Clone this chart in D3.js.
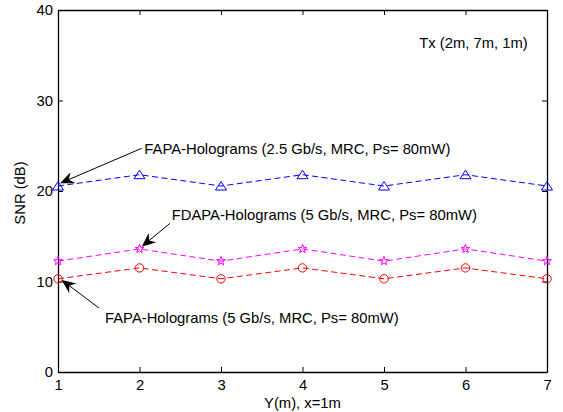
<!DOCTYPE html>
<html>
<head>
<meta charset="utf-8">
<script src="https://cdn.jsdelivr.net/npm/d3@7"></script>
<style>
  html, body { margin: 0; padding: 0; background: #fff; }
  svg { display: block; font-family: "Liberation Sans", Arial, sans-serif; }
</style>
</head>
<body>
<div id="chart"></div>
<script>
// ---- data ----
const positions = [1, 2, 3, 4, 5, 6, 7];
const fapa25 = [20.55, 21.8, 20.55, 21.8, 20.55, 21.8, 20.55];
const fdapa5 = [12.25, 13.6, 12.25, 13.6, 12.25, 13.6, 12.25];
const fapa5 = [10.3, 11.5, 10.3, 11.5, 10.3, 11.5, 10.3];
const xTicks = [1, 2, 3, 4, 5, 6, 7];
const yTicks = [0, 10, 20, 30, 40];
const seriesNames = [
  "FAPA-Holograms (2.5 Gb/s, MRC, Ps= 80mW)",
  "FDAPA-Holograms (5 Gb/s, MRC, Ps= 80mW)",
  "FAPA-Holograms (5 Gb/s, MRC, Ps= 80mW)"
];
const txLabel = "Tx (2m, 7m, 1m)";
const xLabel = "Y(m), x=1m";
const yLabel = "SNR (dB)";

// ---- layout ----
const W = 563, H = 412;
const margin = { left: 58, top: 10, right: 16, bottom: 40 };
const iw = W - margin.left - margin.right;
const ih = H - margin.top - margin.bottom;
const FONT = 14.8;

const svg = d3.select("#chart").append("svg").attr("width", W).attr("height", H);
const g = svg.append("g").attr("transform", `translate(${margin.left},${margin.top})`);

const x = d3.scaleLinear().domain([1, 7]).range([0, iw]);
const y = d3.scaleLinear().domain([0, 40]).range([ih, 0]);

// axes (ticks pointing inward, box)
function styleAxis(sel, showText) {
  sel.select(".domain").attr("stroke", "#000").attr("stroke-width", 1.3);
  sel.selectAll(".tick line").attr("stroke", "#000").attr("stroke-width", 1);
  sel.selectAll(".tick text").attr("fill", "#000").style("font-size", FONT + "px")
     .style("font-family", '"Liberation Sans", Arial, sans-serif');
  if (!showText) sel.selectAll(".tick text").remove();
}
g.append("g").attr("transform", `translate(0,${ih})`)
  .call(d3.axisBottom(x).tickValues(xTicks).tickFormat(d3.format("d")).tickSizeInner(-5).tickSizeOuter(0).tickPadding(7))
  .call(s => styleAxis(s, true));
g.append("g")
  .call(d3.axisTop(x).tickValues(xTicks).tickSizeInner(-5).tickSizeOuter(0))
  .call(s => styleAxis(s, false));
g.append("g")
  .call(d3.axisLeft(y).tickValues(yTicks).tickFormat(d3.format("d")).tickSizeInner(-5).tickSizeOuter(0).tickPadding(5))
  .call(s => styleAxis(s, true));
g.append("g").attr("transform", `translate(${iw},0)`)
  .call(d3.axisRight(y).tickValues(yTicks).tickSizeInner(-5).tickSizeOuter(0))
  .call(s => styleAxis(s, false));

// series
const series = [
  { name: seriesNames[0], values: fapa25, color: "#0000ff", marker: "triangle" },
  { name: seriesNames[1], values: fdapa5, color: "#ff00ff", marker: "star" },
  { name: seriesNames[2], values: fapa5, color: "#ff0000", marker: "circle" }
];

const line = d3.line().x(d => x(d[0])).y(d => y(d[1]));

function starPath(r, ri) {
  let p = "";
  for (let i = 0; i < 10; i++) {
    const a = -Math.PI / 2 + i * Math.PI / 5;
    const rr = i % 2 === 0 ? r : ri;
    p += (i === 0 ? "M" : "L") + (rr * Math.cos(a)).toFixed(2) + "," + (rr * Math.sin(a)).toFixed(2);
  }
  return p + "Z";
}
const circlePath = (() => { const p = d3.path(); p.arc(0, 0, 4.2, 0, 2 * Math.PI); return p.toString(); })();
const markerPaths = {
  triangle: "M0,-4.5L5.5,4L-5.5,4Z",
  star: starPath(4.6, 1.9),
  circle: circlePath
};

series.forEach(s => {
  const pts = positions.map((p, i) => [p, s.values[i]]);
  g.append("path").datum(pts).attr("d", line)
    .attr("fill", "none").attr("stroke", s.color).attr("stroke-width", 1)
    .attr("stroke-dasharray", "6,3.5");
  g.selectAll(null).data(pts).enter().append("path")
    .attr("d", markerPaths[s.marker])
    .attr("transform", d => `translate(${x(d[0])},${y(d[1])})`)
    .attr("fill", "none").attr("stroke", s.color).attr("stroke-width", 1);
});

// annotations (placed in data coordinates)
const arrows = [
  { text: seriesNames[0], tx: 2.059, ty: 24.64, from: [2.027, 24.72], to: [1.025, 20.85] },
  { text: seriesNames[1], tx: 2.395, ty: 17.35, from: [2.374, 16.43], to: [2.027, 13.85] },
  { text: seriesNames[2], tx: 1.577, ty: 5.97, from: [1.503, 7.07], to: [1.045, 10.17] }
];

arrows.forEach(a => {
  const x0 = x(a.from[0]), y0 = y(a.from[1]);
  const x1 = x(a.to[0]), y1 = y(a.to[1]);
  const dx = x1 - x0, dy = y1 - y0, L = Math.hypot(dx, dy);
  const ux = dx / L, uy = dy / L, nx = -uy, ny = ux;
  const hl = 14, hw = 6, back = 9.5;
  g.append("line").attr("x1", x0).attr("y1", y0)
    .attr("x2", x1 - ux * back).attr("y2", y1 - uy * back)
    .attr("stroke", "#000").attr("stroke-width", 1);
  const p = d3.path();
  p.moveTo(x1, y1);
  p.lineTo(x1 - ux * hl + nx * hw, y1 - uy * hl + ny * hw);
  p.lineTo(x1 - ux * back, y1 - uy * back);
  p.lineTo(x1 - ux * hl - nx * hw, y1 - uy * hl - ny * hw);
  p.closePath();
  g.append("path").attr("d", p.toString()).attr("fill", "#000");
  g.append("text").attr("x", x(a.tx)).attr("y", y(a.ty))
    .attr("dominant-baseline", "central").style("font-size", FONT + "px")
    .attr("fill", "#000").text(a.text);
});

g.append("text").attr("x", x(5.433)).attr("y", y(36.39))
  .attr("dominant-baseline", "central").style("font-size", FONT + "px")
  .attr("fill", "#000").text(txLabel);

// axis labels
svg.append("text").attr("x", margin.left + iw / 2).attr("y", 402.5)
  .attr("text-anchor", "middle").attr("dominant-baseline", "central")
  .style("font-size", FONT + "px").attr("fill", "#000").text(xLabel);
svg.append("text").attr("transform", `translate(20,${margin.top + ih / 2 + 2}) rotate(-90)`)
  .attr("text-anchor", "middle").attr("dominant-baseline", "central")
  .style("font-size", FONT + "px").attr("fill", "#000").text(yLabel);
</script>
</body>
</html>
